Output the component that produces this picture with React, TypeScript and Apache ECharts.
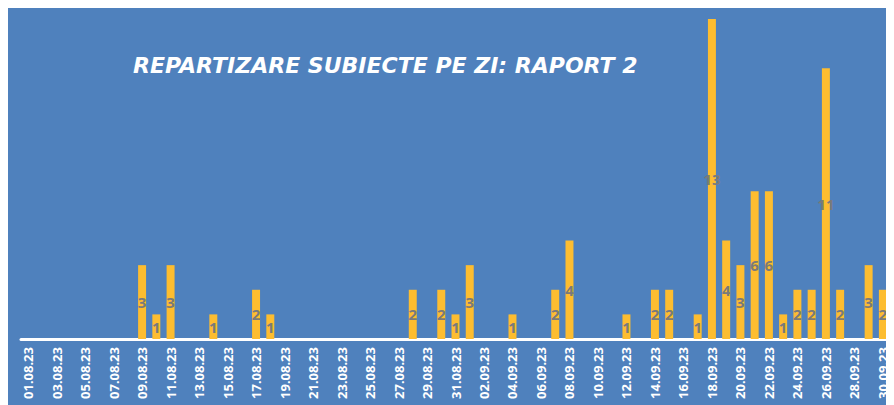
import React, { useEffect, useRef } from "react";
import * as echarts from "echarts";

const titleText = "REPARTIZARE SUBIECTE PE ZI: RAPORT 2";

const dates: string[] = [
  "01.08.23", "02.08.23", "03.08.23", "04.08.23", "05.08.23", "06.08.23", "07.08.23", "08.08.23",
  "09.08.23", "10.08.23", "11.08.23", "12.08.23", "13.08.23", "14.08.23", "15.08.23", "16.08.23",
  "17.08.23", "18.08.23", "19.08.23", "20.08.23", "21.08.23", "22.08.23", "23.08.23", "24.08.23",
  "25.08.23", "26.08.23", "27.08.23", "28.08.23", "29.08.23", "30.08.23", "31.08.23",
  "01.09.23", "02.09.23", "03.09.23", "04.09.23", "05.09.23", "06.09.23", "07.09.23", "08.09.23",
  "09.09.23", "10.09.23", "11.09.23", "12.09.23", "13.09.23", "14.09.23", "15.09.23", "16.09.23",
  "17.09.23", "18.09.23", "19.09.23", "20.09.23", "21.09.23", "22.09.23", "23.09.23", "24.09.23",
  "25.09.23", "26.09.23", "27.09.23", "28.09.23", "29.09.23", "30.09.23",
];

const augustCounts: number[] = [
  0, 0, 0, 0, 0, 0, 0, 0,
  3, 1, 3, 0, 0, 1, 0, 0,
  2, 1, 0, 0, 0, 0, 0, 0,
  0, 0, 0, 2, 0, 2, 1,
];

const septemberCounts: number[] = [
  3, 0, 0, 1, 0, 0, 2, 4,
  0, 0, 0, 1, 0, 2, 2, 0,
  1, 13, 4, 3, 6, 6, 1, 2,
  2, 11, 2, 0, 3, 2,
];

const counts = [...augustCounts, ...septemberCounts];

export default function App() {
  const ref = useRef<HTMLDivElement>(null);
  useEffect(() => {
    if (!ref.current) return;
    const chart = echarts.init(ref.current, null, { renderer: "svg" });
    chart.setOption({
      animation: false,
      backgroundColor: "#4f81bd",
      graphic: [
        {
          type: "text",
          left: 125,
          top: 46,
          style: {
            text: titleText,
            fill: "#ffffff",
            font: "italic bold 22px 'DejaVu Sans'",
          },
        },
      ],
      grid: { left: 13, right: 4, top: 11, bottom: 66, containLabel: false },
      xAxis: {
        type: "category",
        data: dates,
        axisLine: { show: true, lineStyle: { color: "#ffffff", width: 3 } },
        axisTick: { show: false },
        axisLabel: {
          interval: 1,
          rotate: 90,
          color: "#ffffff",
          fontSize: 13,
          fontWeight: "bold",
          fontFamily: "'Noto Sans'",
          margin: 8,
        },
      },
      yAxis: {
        type: "value",
        min: 0,
        max: 13,
        show: false,
        splitLine: { show: false },
      },
      series: [
        {
          type: "bar",
          data: counts,
          barWidth: "56%",
          itemStyle: { color: "#fdbd30" },
          label: {
            show: true,
            position: "inside",
            color: "#7a7a7a",
            fontSize: 15,
            fontWeight: "bold",
            fontFamily: "'Noto Sans'",
            formatter: (p: any) => (p.value ? String(p.value) : ""),
          },
        },
      ],
    });
    return () => chart.dispose();
  }, []);
  return <div ref={ref} style={{ width: 886, height: 397 }} />;
}
